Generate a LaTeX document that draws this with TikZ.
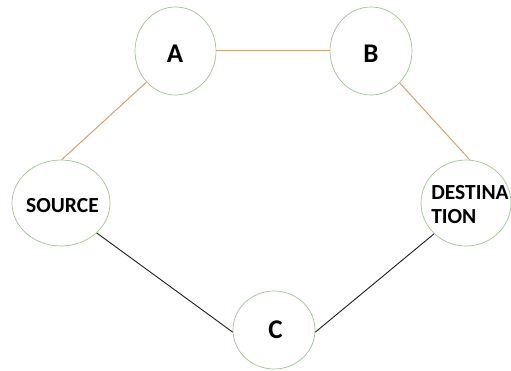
\documentclass[tikz,border=0pt]{standalone}
\usepackage{fontspec}
\setmainfont{Carlito}
\usetikzlibrary{shapes.geometric}
\definecolor{ringgreen}{RGB}{160,196,146}
\definecolor{linktan}{RGB}{214,160,112}
\definecolor{linkdark}{RGB}{30,30,30}
\tikzset{
  router/.style={draw=ringgreen, line width=0.7pt, ellipse, inner sep=0pt, fill=white},
  tag/.style={text=black, inner sep=0pt},
  bigtag/.style={tag, font=\fontsize{27}{31}\selectfont\bfseries},
  smalltag/.style={tag, font=\fontsize{21.5}{24}\selectfont\bfseries},
  upper/.style={draw=linktan, line width=1pt},
  lower/.style={draw=linkdark, line width=0.9pt}
}
\begin{document}
\begin{tikzpicture}[x=1pt, y=-1pt]
  \useasboundingbox (0,0) rectangle (511,371);
  \fill[white] (0,0) rectangle (511,371);

  % network nodes
  \node[router, minimum width=81pt, minimum height=88pt] (A) at (175.5,51) {};
  \node[router, minimum width=82pt, minimum height=88pt] (B) at (371,51) {};
  \node[router, minimum width=98pt, minimum height=86pt] (S) at (61,203) {};
  \node[router, minimum width=90pt, minimum height=86pt] (D) at (466,203) {};
  \node[router, minimum width=82pt, minimum height=78pt] (C) at (274,330) {};

  % links
  \draw[upper] (A.east) -- (B.west);
  \draw[upper] (S.89) -- (A.227);
  \draw[upper] (B.312) -- (D.85);
  \draw[lower] (S.320) -- (C.183);
  \draw[lower] (D.224) -- (C.357);

  % labels
  \node[bigtag] (tA) at (175,53.5) {A};
  \node[bigtag] (tB) at (371,53.5) {B};
  \node[bigtag] (tC) at (275.5,329.5) {C};
  \node[smalltag] (tS) at (62.5,205.5) {SOURCE};
  \node[smalltag, align=left] (tD) at (470,204.5) {DESTINA\\TION};
\end{tikzpicture}
\end{document}
